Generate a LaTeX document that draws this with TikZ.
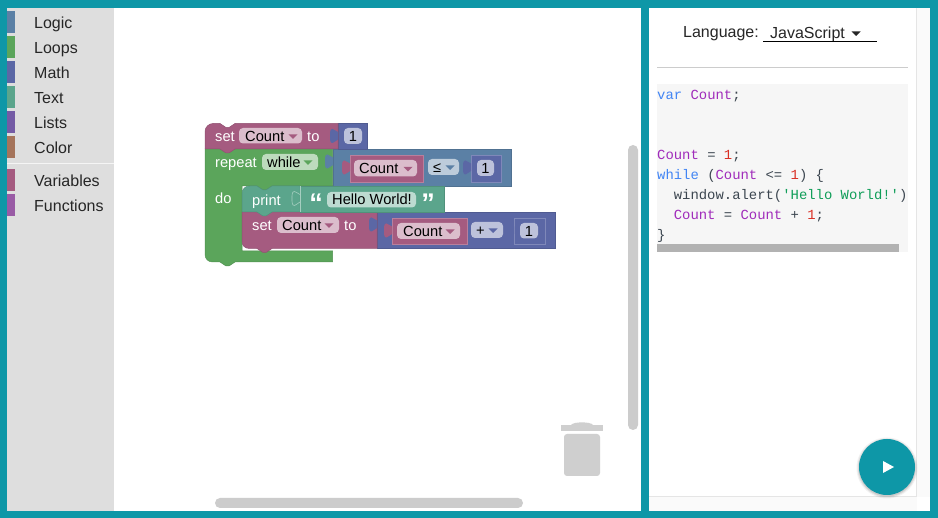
\documentclass[tikz,border=0pt]{standalone}
\usepackage{fontspec}
\setmainfont{Liberation Sans}
\setmonofont{Liberation Mono}
\definecolor{frameteal}{HTML}{0E97A7}
\definecolor{logicblue}{HTML}{5B80A5}
\definecolor{loopgreen}{HTML}{5BA55B}
\definecolor{mathblue}{HTML}{5B67A5}
\definecolor{textteal}{HTML}{5BA58C}
\definecolor{listpurple}{HTML}{745BA5}
\definecolor{colorbrown}{HTML}{A5745B}
\definecolor{varpink}{HTML}{A55B80}
\definecolor{funcpurple}{HTML}{995BA5}
\definecolor{codekey}{HTML}{4285F4}
\definecolor{codevar}{HTML}{A02CBB}
\definecolor{codenum}{HTML}{D93025}
\definecolor{codestr}{HTML}{0F9D58}
\definecolor{codeplain}{HTML}{3C4650}
\newcommand{\kw}[1]{\textcolor{codekey}{#1}}
\newcommand{\vr}[1]{\textcolor{codevar}{#1}}
\newcommand{\nm}[1]{\textcolor{codenum}{#1}}
\newcommand{\st}[1]{\textcolor{codestr}{#1}}
\newcommand{\tabshape}{(0,3) .. controls (-2,3) and (-3,0) .. (-5.5,0) .. controls (-8,0) and (-8,3) .. (-8,7)
    .. controls (-8,11) and (-8,14) .. (-5.5,14) .. controls (-3,14) and (-2,10.5) .. (0,10.5)}
\begin{document}
\begin{tikzpicture}[x=1pt,y=-1pt]
\tikzset{
    block/.style={fill=#1,draw=#1!88!black,line width=.5pt},
    inblock/.style={fill=#1,draw=#1!78!white,line width=.5pt},
    fieldbox/.style={fill=#1,rounded corners=4pt},
    blocktext/.style={font=\fontsize{14.67}{16}\selectfont,text=white,inner sep=0pt,anchor=base west},
    fieldtext/.style={font=\fontsize{14.67}{16}\selectfont,text=black,inner sep=0pt,anchor=base west},
    tooltext/.style={font=\fontsize{16}{18}\selectfont,text=black!85,inner sep=0pt,anchor=base west},
    uitext/.style={font=\fontsize{16}{18}\selectfont,text=black!85,inner sep=0pt,anchor=base west},
    codetext/.style={font=\ttfamily\fontsize{13.9}{16}\selectfont,text=codeplain,inner sep=0pt,anchor=base west},
    quotetext/.style={font=\bfseries\fontsize{27}{27}\selectfont,text=white,inner sep=0pt,anchor=center},
    puzzle/.pic={\path[fill=#1] \tabshape -- cycle;},
    puzzleline/.pic={\draw[#1,line width=.6pt] \tabshape;},
    caret/.pic={\fill[#1] (-4.5,-2) -- (4.5,-2) -- (0,2.5) -- cycle;}
}
\useasboundingbox (0,0) rectangle (938,518);
% frame and panels
\fill[frameteal] (0,0) rectangle (938,518);
\fill[white] (7,8) rectangle (641,511);
\fill[white] (649,8) rectangle (930,511);
\fill[black!13] (7,8) rectangle (114,511);
% toolbox
\foreach \y/\col/\name in {11/logicblue/Logic,36/loopgreen/Loops,61/mathblue/Math,86/textteal/Text,
    111/listpurple/Lists,136/colorbrown/Color,169/varpink/Variables,194/funcpurple/Functions}{
    \fill[\col] (7,\y) rectangle +(8,22);
    \node[tooltext] (tool\name) at (34,\y+17.2) {\name};
}
\draw[white!70!black!13,line width=.6pt] (7,163.5) -- (114,163.5);
% scrollbars and trash
\fill[black!20,rounded corners=5pt] (628,145) rectangle (638,430);
\fill[black!20,rounded corners=5pt] (215,498) rectangle (523,508);
\fill[black!19] (561,425) rectangle (603,431);
\fill[black!19] (571,425) .. controls (573,421.5) and (591,421.5) .. (593,425) -- cycle;
\fill[black!19,rounded corners=3pt] (564,434) -- (600,434) -- (600,476) -- (564,476) -- cycle;
% repeat block
\draw[block=loopgreen] (205,149) -- (332.5,149) -- (332.5,186) -- (272,186) -- ++(-6,4) -- ++(-3,0) -- ++(-6,-4)
    -- (242,186) -- (242,251) -- (332.5,251)
    -- (332.5,262) -- (235,262) -- ++(-6,4) -- ++(-3,0) -- ++(-6,-4) -- (213,262)
    .. controls (208,262) and (205,259) .. (205,254) -- cycle;
% logic compare block
\draw[block=logicblue] (333,149) rectangle (511.5,186);
\pic at (333,154.5) {puzzle=logicblue};
\draw[inblock=varpink] (350,155) rectangle (423,182);
\pic at (350,160.5) {puzzle=varpink};
\path[fieldbox=varpink!40!white] (354,160) rectangle (417,176.5);
\node[fieldtext] (countleft) at (359,173.5) {Count};
\pic at (408,169) {caret=varpink};
\path[fieldbox=logicblue!40!white] (428,159) rectangle (459,175);
\node[fieldtext] (lessthan) at (433,172.5) {≤};
\pic at (450,167.5) {caret=logicblue};
\draw[inblock=mathblue] (471,155) rectangle (501,182);
\pic at (471,160.5) {puzzle=mathblue};
\path[fieldbox=mathblue!40!white] (477,160) rectangle (494,176);
\node[fieldtext,anchor=base] (oneleft) at (485.5,173.5) {1};
% set count to 1 block
\draw[block=mathblue] (338,123.5) rectangle (367.5,149);
\path[fieldbox=mathblue!40!white] (344,128) rectangle (362,144);
\node[fieldtext,anchor=base] (onetop) at (353,141.5) {1};
\draw[block=varpink] (213,123.5) -- (220,123.5) -- ++(6,4) -- ++(3,0) -- ++(6,-4) -- (338,123.5) -- (338,149)
    -- (235,149) -- ++(-6,4) -- ++(-3,0) -- ++(-6,-4) -- (205,149) -- (205,131.5)
    .. controls (205,127) and (209,123.5) .. (213,123.5) -- cycle;
\pic at (338,129) {puzzle=mathblue};
\node[blocktext] (settop) at (215,141.7) {set};
\path[fieldbox=varpink!40!white] (239,128) rectangle (302,143.5);
\node[fieldtext] (counttop) at (245,141.7) {Count};
\pic at (293,136.5) {caret=varpink};
\node[blocktext] (totop) at (307,141.7) {to};
% repeat labels
\node[blocktext] (repeatlabel) at (215,167.7) {repeat};
\path[fieldbox=loopgreen!40!white] (262,154) rectangle (318,170);
\node[fieldtext] (whilefield) at (267,167.7) {while};
\pic at (308,162.5) {caret=loopgreen};
\node[blocktext] (dolabel) at (215,203.7) {do};
% set count to count plus 1 block
\draw[block=mathblue] (377,212) rectangle (555,248.5);
\draw[inblock=varpink] (392,218) rectangle (467,244);
\pic at (392,223.5) {puzzle=varpink};
\path[fieldbox=varpink!40!white] (397,223) rectangle (460,239);
\node[fieldtext] (countright) at (403,236.5) {Count};
\pic at (450,231.5) {caret=varpink};
\path[fieldbox=mathblue!40!white] (471,222) rectangle (503,238);
\node[fieldtext] (plusfield) at (476,235.5) {+};
\pic at (493,230.5) {caret=mathblue};
\draw[inblock=mathblue] (514,218) rectangle (545,244);
\pic at (514,223.5) {puzzle=mathblue};
\path[fieldbox=mathblue!40!white] (520,223) rectangle (538,238.5);
\node[fieldtext,anchor=base] (oneright) at (529,236.5) {1};
\draw[block=varpink] (242,212) -- (377,212) -- (377,248.5) -- (272,248.5) -- ++(-6,4) -- ++(-3,0) -- ++(-6,-4)
    -- (250,248.5) .. controls (245,248.5) and (242,246) .. (242,241) -- cycle;
\pic at (377,217.5) {puzzle=mathblue};
\node[blocktext] (setlow) at (252,230.7) {set};
\path[fieldbox=varpink!40!white] (277,217) rectangle (339,233);
\node[fieldtext] (countlow) at (282,230.7) {Count};
\pic at (329,225.5) {caret=varpink};
\node[blocktext] (tolow) at (344,230.7) {to};
% print block
\draw[block=textteal] (300,186) rectangle (444,212);
\path[fieldbox=textteal!40!white] (327,192) rectangle (416,207.5);
\node[fieldtext] (hellofield) at (332,204.5) {Hello World!};
\node[quotetext] (quoteopen) at (316,203.5) {“};
\node[quotetext] (quoteclose) at (428,203.5) {”};
\draw[block=textteal] (250,186) -- (257,186) -- ++(6,4) -- ++(3,0) -- ++(6,-4) -- (300,186) -- (300,212)
    -- (272,212) -- ++(-6,4) -- ++(-3,0) -- ++(-6,-4) -- (242,212) -- (242,194)
    .. controls (242,189) and (245,186) .. (250,186) -- cycle;
\pic at (300,191.5) {puzzleline=textteal!55!white};
\draw[textteal!55!white,line width=.6pt] (300,186) -- (300,212);
\node[blocktext] (printlabel) at (252,205.7) {print};
% language selector
\node[uitext] (langlabel) at (683,37.2) {Language:};
\node[uitext] (langvalue) at (770,38.2) {JavaScript};
\pic at (856,33.5) {caret=black!85};
\draw[black,line width=.8pt] (763,41.5) -- (877,41.5);
\draw[black!20,line width=1pt] (657,67.5) -- (908,67.5);
% code
\fill[black!3.5] (657,84) rectangle (908,252);
\fill[black!30] (657,244) rectangle (899,252);
\node[codetext] (line1) at (657,99.7) {\kw{var} \vr{Count};};
\node[codetext] (line2) at (657,159.7) {\vr{Count} = \nm{1};};
\node[codetext] (line3) at (657,179.7) {\kw{while} (\vr{Count} <= \nm{1}) \{};
\node[codetext] (line4) at (657,199.7) {\ \ window.alert(\st{'Hello World!'})};
\node[codetext] (line5) at (657,219.7) {\ \ \vr{Count} = \vr{Count} + \nm{1};};
\node[codetext] (line6) at (657,239.7) {\}};
% panel scroll tracks
\fill[black!2] (917,8) rectangle (930,497);
\fill[black!2] (649,497) rectangle (917,511);
\draw[black!10,line width=.7pt] (916.5,8) -- (916.5,496.5) -- (649,496.5);
% run button
\foreach \r/\o in {30.5/.05,29.5/.07,28.5/.09}{
    \fill[black,opacity=\o] (887,468) circle[radius=\r];
}
\node[circle,fill=frameteal,minimum size=56pt,inner sep=0pt] (runbutton) at (887,467) {};
\fill[white] (883,461) -- (894,467) -- (883,473) -- cycle;
\end{tikzpicture}
\end{document}
